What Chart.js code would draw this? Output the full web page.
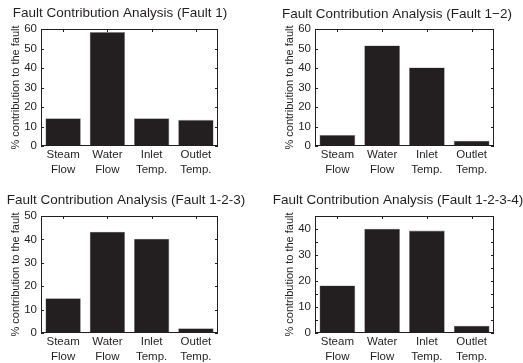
<!DOCTYPE html>
<html>
<head>
<meta charset="utf-8">
<script src="https://cdn.jsdelivr.net/npm/chart.js@4"></script>
<style>
  body { margin: 0; background: #fff; }
  #wrap { position: relative; width: 523px; height: 363px; }
  canvas { position: absolute; left: 0; top: 0; }
</style>
</head>
<body>
<div id="wrap">
  <canvas id="c1" width="523" height="363"></canvas>
  <canvas id="c2" width="523" height="363"></canvas>
  <canvas id="c3" width="523" height="363"></canvas>
  <canvas id="c4" width="523" height="363"></canvas>
</div>
<script>
// data
const categories = [['Steam', 'Flow'], ['Water', 'Flow'], ['Inlet', 'Temp.'], ['Outlet', 'Temp.']];
const titles = [
  'Fault Contribution Analysis (Fault 1)',
  'Fault Contribution Analysis (Fault 1\u22122)',
  'Fault Contribution Analysis (Fault 1-2-3)',
  'Fault Contribution Analysis (Fault 1-2-3-4)'
];
const fault1 = [14.2, 58.4, 14.2, 13.4];
const fault12 = [5.7, 51.6, 40.3, 2.7];
const fault123 = [14.9, 43.3, 40.3, 2.0];
const fault1234 = [18.3, 40.1, 39.4, 2.8];
const yMax = [60, 60, 50, 45];
const yLabel = '% contribution to the fault';

const INK = '#231f20';
const FONT = "'Liberation Sans', Arial, sans-serif";
const YW = 40, XH = 30;

// page layout: axes box [left, top, right, bottom], title centre
const boxes = [[41, 29, 218, 146], [315, 29, 494, 146], [41, 216, 218, 333], [315, 216, 494, 333]];
const titlePos = [[120, 13], [397, 14], [126, 200], [398, 200]];

const matlabFrame = {
  id: 'matlabFrame',
  afterDraw(chart, args, opts) {
    const ctx = chart.ctx;
    const a = chart.chartArea;
    const y = chart.scales.y, x = chart.scales.x;
    ctx.save();
    ctx.strokeStyle = INK;
    ctx.lineWidth = 1;
    ctx.strokeRect(a.left + 0.5, a.top + 0.5, a.right - a.left - 1, a.bottom - a.top - 1);
    ctx.beginPath();
    const vals = y.ticks.map(t => t.value).concat(opts.minor || []);
    vals.forEach(v => {
      const py = Math.round(y.getPixelForValue(v)) + 0.5;
      ctx.moveTo(a.left, py); ctx.lineTo(a.left + 3, py);
      ctx.moveTo(a.right, py); ctx.lineTo(a.right - 3, py);
    });
    categories.forEach((c, i) => {
      const px = Math.round(x.getPixelForValue(i)) + 0.5;
      ctx.moveTo(px, a.top); ctx.lineTo(px, a.top + 3);
      ctx.moveTo(px, a.bottom); ctx.lineTo(px, a.bottom - 3);
    });
    ctx.stroke();
    // title
    ctx.fillStyle = INK;
    ctx.font = '13.5px ' + FONT;
    ctx.textAlign = 'center';
    ctx.textBaseline = 'middle';
    ctx.fillText(opts.title, opts.tx, opts.ty);
    ctx.restore();
  }
};

function makeChart(id, values, n, minor) {
  const b = boxes[n];
  new Chart(document.getElementById(id), {
    type: 'bar',
    data: {
      labels: categories,
      datasets: [{
        data: values,
        backgroundColor: INK,
        borderColor: '#8a8788',
        borderWidth: 0.6,
        barPercentage: 0.8,
        categoryPercentage: 1
      }]
    },
    options: {
      responsive: false,
      animation: false,
      events: [],
      layout: {
        padding: { left: b[0] - YW, top: b[1], right: 523 - b[2], bottom: 363 - b[3] - XH }
      },
      plugins: {
        legend: { display: false },
        tooltip: { enabled: false },
        matlabFrame: { title: titles[n], tx: titlePos[n][0], ty: titlePos[n][1], minor: minor }
      },
      scales: {
        x: {
          grid: { display: false, drawTicks: false },
          border: { display: false },
          ticks: { color: INK, font: { family: FONT, size: 11.5, lineHeight: 1.25 }, padding: 2, maxRotation: 0 },
          afterFit(s) { s.height = XH; }
        },
        y: {
          min: 0,
          max: yMax[n],
          grid: { display: false, drawTicks: false },
          border: { display: false },
          ticks: { stepSize: 10, color: INK, font: { family: FONT, size: 11.5 }, padding: 4 },
          afterBuildTicks(s) { s.ticks = s.ticks.filter(t => t.value % 10 === 0); },
          title: { display: true, text: yLabel, color: INK, font: { family: FONT, size: 11 }, padding: { top: 8, bottom: 0 } },
          afterFit(s) { s.width = YW; }
        }
      }
    },
    plugins: [matlabFrame]
  });
}

makeChart('c1', fault1, 0);
makeChart('c2', fault12, 1);
makeChart('c3', fault123, 2);
makeChart('c4', fault1234, 3, [5, 15, 25, 35]);
</script>
</body>
</html>
